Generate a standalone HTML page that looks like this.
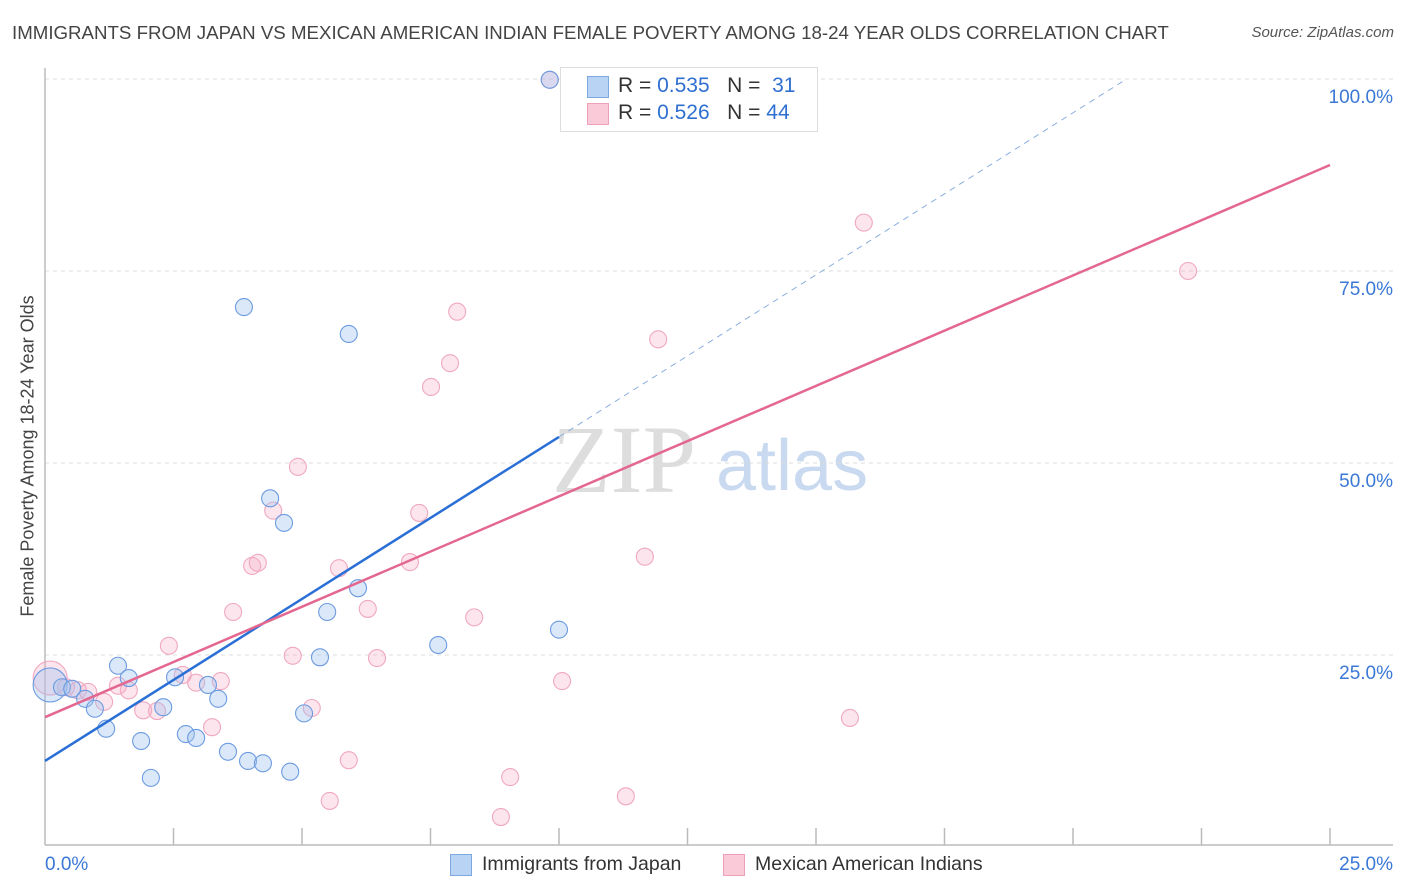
<!DOCTYPE html>
<html><head><meta charset="utf-8"><style>
body{margin:0;background:#fff;font-family:"Liberation Sans",sans-serif;}
#wrap{position:relative;width:1406px;height:892px;overflow:hidden;}
.t{position:absolute;white-space:nowrap;}
</style></head><body>
<div id="wrap">
<div class="t" style="left:12px;top:22px;font-size:18.7px;color:#444;">IMMIGRANTS FROM JAPAN VS MEXICAN AMERICAN INDIAN FEMALE POVERTY AMONG 18-24 YEAR OLDS CORRELATION CHART</div>
<div class="t" style="right:12px;top:24px;font-size:15px;color:#555;font-style:italic;">Source: ZipAtlas.com</div>
<svg id="svg" width="1406" height="892" style="position:absolute;left:0;top:0">
<text x="552" y="492" font-family="Liberation Serif,serif" font-size="96" fill="#dddddd">ZIP</text>
<text x="716" y="490" font-family="Liberation Sans,sans-serif" font-size="72" fill="#c9d9f0">atlas</text>
<g id="grid"></g><g id="marks"></g><g id="lines"></g>
</svg>
<div class="t" style="left:28px;top:456px;font-size:18px;color:#444;transform:translate(-50%,-50%) rotate(-90deg);">Female Poverty Among 18-24 Year Olds</div>
<div style="position:absolute;left:560px;top:67px;width:256px;height:63px;border:1px solid #ddd;background:#fff;font-size:21px;color:#333;">
<div style="position:absolute;left:26px;top:8px;width:20px;height:20px;background:#b9d3f5;border:1px solid #7ea9e0;"></div>
<div class="t" style="left:57px;top:6px;">R = <span style="color:#2f6fd0">0.535</span> &nbsp;&nbsp;N = &nbsp;<span style="color:#2f6fd0">31</span></div>
<div style="position:absolute;left:26px;top:35px;width:20px;height:20px;background:#fbcad8;border:1px solid #eea0b8;"></div>
<div class="t" style="left:57px;top:33px;">R = <span style="color:#2f6fd0">0.526</span> &nbsp;&nbsp;N = <span style="color:#2f6fd0">44</span></div>
</div>
<div style="position:absolute;left:450px;top:854px;width:20px;height:20px;background:#b9d3f5;border:1px solid #7ea9e0;"></div>
<div class="t" style="left:482px;top:853px;font-size:19.5px;color:#333;">Immigrants from Japan</div>
<div style="position:absolute;left:723px;top:854px;width:20px;height:20px;background:#fbcad8;border:1px solid #eea0b8;"></div>
<div class="t" style="left:755px;top:853px;font-size:19.5px;color:#333;">Mexican American Indians</div>
</div>
<script>
const yTicks=[25,50,75,100];
const yTickLabels=["25.0%","50.0%","75.0%","100.0%"];
const xTickLabels=["0.0%","25.0%"];
const japanX=[0.10,0.33,0.53,0.78,0.97,1.19,1.42,1.63,1.87,2.06,2.30,2.53,2.74,2.94,3.17,3.37,3.56,3.87,3.95,4.24,4.38,4.65,4.77,5.04,5.35,5.49,5.91,6.09,7.65,10.0,9.82];
const japanY=[21.1,20.8,20.6,19.3,18.0,15.4,23.6,22.0,13.8,9.0,18.2,22.1,14.7,14.2,21.1,19.3,12.4,70.3,11.2,10.9,45.4,42.2,9.8,17.4,24.7,30.6,66.8,33.7,26.3,28.3,99.9];
const mexX=[0.10,0.41,0.64,0.84,1.15,1.42,1.63,1.91,2.18,2.41,2.68,2.94,3.25,3.42,3.66,4.03,4.14,4.44,4.82,4.92,5.19,5.54,5.72,5.91,6.28,6.46,7.10,7.28,7.51,7.88,8.02,8.35,8.87,9.05,10.06,10.25,11.30,11.67,11.93,12.55,15.66,15.93,22.24,9.82];
const mexY=[22.0,20.8,20.4,20.2,18.9,21.0,20.4,17.8,17.7,26.2,22.4,21.4,15.6,21.6,30.6,36.6,37.0,43.8,24.9,49.5,18.1,6.0,36.3,11.3,31.0,24.6,37.1,43.5,59.9,63.0,69.7,29.9,3.9,9.1,21.6,99.9,6.6,37.8,66.1,99.9,16.8,81.3,75.0,99.9];
const japanTrend=[11.2,4.22];
const mexTrend=[16.9,2.876];
const X=v=>45+v/25*1285, Y=v=>847-v*7.68;
const NS="http://www.w3.org/2000/svg";
function mk(tag,at,par){const e=document.createElementNS(NS,tag);for(const k in at)e.setAttribute(k,at[k]);document.getElementById(par).appendChild(e);return e;}
yTicks.forEach((t,i)=>{
 const g=mk('line',{x1:45,x2:1393,y1:Y(t),y2:Y(t),stroke:'#dcdcdc','stroke-dasharray':'4,4'},'grid');
 
 
 const tx=mk('text',{x:1393,y:Y(t)+24,'text-anchor':'end','font-size':19,fill:'#3b78d6','font-family':'Liberation Sans,sans-serif'},'grid');
 tx.textContent=yTickLabels[i];
 
 
});
const ax=mk('line',{x1:45,x2:45,y1:68,y2:845,stroke:'#bbb','stroke-width':1.5},'grid');


const bx=mk('line',{x1:45,x2:1393,y1:845,y2:845,stroke:'#bbb','stroke-width':1.5},'grid');


for(let i=1;i<=10;i++){const tk=mk('line',{x1:X(i*2.5),x2:X(i*2.5),y1:828,y2:845,stroke:'#bbb','stroke-width':1.5},'grid');
 
 }
[[0,45,'start'],[1,1393,'end']].forEach(([i,x,a])=>{const t=mk('text',{x:x,y:870,'text-anchor':a,'font-size':19,fill:'#3b78d6','font-family':'Liberation Sans,sans-serif'},'grid');t.textContent=xTickLabels[i];
 
 });
function pts(xs,ys,fill,stroke,name){xs.forEach((x,i)=>{const c=mk('circle',{cx:X(x),cy:Y(ys[i]),r:i==0?17:8.5,fill:fill,stroke:stroke,'stroke-width':1.1},'marks');
 
 });}
pts(mexX,mexY,'rgba(245,170,195,0.3)','#f0a8bf','point-mexican');
pts(japanX,japanY,'rgba(160,195,240,0.38)','#6c9be0','point-japan');
const l1=mk('line',{x1:X(0),y1:Y(japanTrend[0]),x2:X(10),y2:Y(japanTrend[0]+japanTrend[1]*10),stroke:'#2a6fd6','stroke-width':2.5},'lines');


const xe=(100-japanTrend[0])/japanTrend[1];
const l2=mk('line',{x1:X(10),y1:Y(japanTrend[0]+japanTrend[1]*10),x2:X(xe),y2:Y(100),stroke:'#8aaee0','stroke-width':1,'stroke-dasharray':'6,5'},'lines');


const l3=mk('line',{x1:X(0),y1:Y(mexTrend[0]),x2:X(25),y2:Y(mexTrend[0]+mexTrend[1]*25),stroke:'#e4678f','stroke-width':2.5},'lines');


</script>
</body></html>
